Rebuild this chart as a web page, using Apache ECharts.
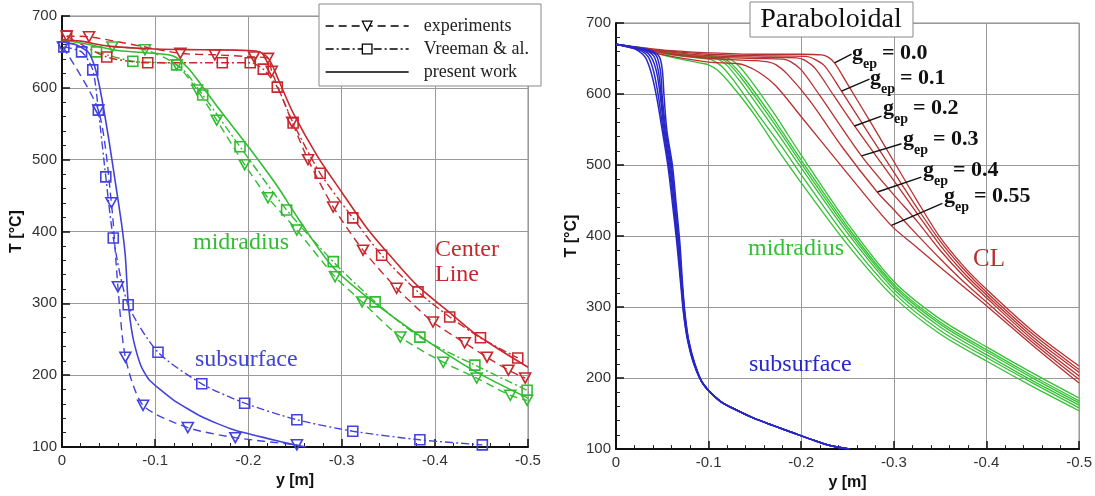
<!DOCTYPE html>
<html><head><meta charset="utf-8">
<script src="https://cdn.jsdelivr.net/npm/echarts@6/dist/echarts.min.js"></script>
<style>html,body{margin:0;padding:0;background:#fff}#c{width:1095px;height:496px}</style>
</head><body><div id="c"></div>
<script>
// ---------------- axis ranges ----------------
const xRange = [-0.5, 0];
const yRange = [100, 700];
const legendNames = ['experiments', 'Vreeman & al.', 'present work'];

// ---------------- LEFT PANEL (comparison) ----------------
const redExp = [[-0.005,672],[-0.029,671],[-0.127,648],[-0.164,646],[-0.206,643],[-0.221,641],[-0.225,623],[-0.247,552],[-0.264,500],[-0.291,434],[-0.323,374],[-0.359,321],[-0.398,274],[-0.432,245],[-0.456,225],[-0.479,207],[-0.497,196]];
const redVre = [[-0.005,672],[-0.048,643],[-0.092,635],[-0.172,635],[-0.202,635],[-0.216,626],[-0.231,601],[-0.248,551],[-0.277,481],[-0.312,419],[-0.343,367],[-0.382,316],[-0.416,281],[-0.449,252],[-0.489,224]];
const redSim = [[0,667],[-0.02,665],[-0.05,658],[-0.1,654],[-0.15,653],[-0.2,652],[-0.212,650],[-0.222,640],[-0.232,612],[-0.248,565],[-0.274,505],[-0.3,455],[-0.327,405],[-0.355,362],[-0.381,325],[-0.416,287],[-0.441,260],[-0.47,235],[-0.5,211]];

const greenExp = [[-0.054,657],[-0.089,653],[-0.123,632],[-0.145,597],[-0.166,555],[-0.196,493],[-0.221,447],[-0.252,402],[-0.293,337],[-0.322,302],[-0.363,253],[-0.409,218],[-0.445,196],[-0.481,172],[-0.499,165]];
const greenVre = [[-0.037,650],[-0.076,637],[-0.123,632],[-0.151,590],[-0.191,518],[-0.241,430],[-0.291,358],[-0.336,302],[-0.384,253],[-0.443,214],[-0.499,179]];
const greenSim = [[0,667],[-0.03,660],[-0.06,652],[-0.1,648],[-0.12,644],[-0.135,628],[-0.15,603],[-0.17,568],[-0.2,518],[-0.23,465],[-0.255,415],[-0.291,350],[-0.334,302],[-0.387,252],[-0.441,207],[-0.5,168]];

const blueExp = [[-0.001,657],[-0.039,569],[-0.053,440],[-0.06,323],[-0.068,225],[-0.087,158],[-0.135,127],[-0.186,113],[-0.252,103]];
const blueVre = [[-0.002,657],[-0.021,650],[-0.033,625],[-0.039,569],[-0.047,476],[-0.055,391],[-0.071,298],[-0.103,232],[-0.15,188],[-0.196,161],[-0.252,138],[-0.312,122],[-0.384,110],[-0.451,103]];
const blueSim = [[0,664],[-0.015,660],[-0.028,650],[-0.035,630],[-0.041,597],[-0.05,530],[-0.058,462],[-0.064,410],[-0.068,365],[-0.0705,310],[-0.073,278],[-0.077,247],[-0.085,212],[-0.094,193],[-0.119,166],[-0.15,142],[-0.184,124],[-0.22,112],[-0.25,103],[-0.262,100]];

// ---------------- RIGHT PANEL (paraboloidal) ----------------
const clG00 = [[0,670],[-0.03,665],[-0.06,661],[-0.1,658],[-0.15,656],[-0.2,656],[-0.222,655],[-0.229,652],[-0.236,644],[-0.25,614],[-0.275,560],[-0.3,505],[-0.325,450],[-0.35,398],[-0.375,358],[-0.4,325],[-0.45,266],[-0.5,217]];
const clG01 = [[0,670],[-0.03,664],[-0.06,660],[-0.1,656],[-0.15,654],[-0.205,653],[-0.213,650],[-0.225,640],[-0.2435,604],[-0.275,540],[-0.3,490],[-0.325,440],[-0.35,393],[-0.375,354],[-0.4,321],[-0.45,262],[-0.5,212]];
const clG02 = [[0,670],[-0.03,664],[-0.06,659],[-0.1,654],[-0.15,652],[-0.195,651],[-0.203,648],[-0.215,636],[-0.235,598],[-0.2575,555],[-0.3,478],[-0.325,432],[-0.35,387],[-0.375,349],[-0.4,317],[-0.45,258],[-0.5,208]];
const clG03 = [[0,670],[-0.03,663],[-0.06,657],[-0.1,652],[-0.15,650],[-0.18,649],[-0.188,646],[-0.2,634],[-0.22,598],[-0.265,513],[-0.3,458],[-0.325,421],[-0.35,380],[-0.375,344],[-0.4,313],[-0.45,254],[-0.5,203]];
const clG04 = [[0,670],[-0.03,663],[-0.06,656],[-0.1,650],[-0.15,647],[-0.165,645],[-0.173,641],[-0.185,628],[-0.209,591],[-0.245,524],[-0.282,462],[-0.3,437],[-0.325,402],[-0.35,368],[-0.375,336],[-0.4,307],[-0.45,250],[-0.5,198]];
const clG055 = [[0,670],[-0.03,661],[-0.06,653],[-0.1,645],[-0.13,643],[-0.14,640],[-0.155,630],[-0.173,611],[-0.2,568],[-0.25,488],[-0.297,415],[-0.325,384],[-0.35,356],[-0.375,329],[-0.4,302],[-0.45,246],[-0.5,193]];
const clCurves = [clG00, clG01, clG02, clG03, clG04, clG055];
const gepLabels = ['0.0', '0.1', '0.2', '0.3', '0.4', '0.55'];
// leader lines: point on curve -> label end (data coordinates)
const leaderFrom = [[-0.236,644],[-0.2435,604],[-0.2575,555],[-0.2651,513],[-0.2823,462],[-0.2974,415]];
const leaderTo   = [[-0.2543,656],[-0.2737,621],[-0.2866,569],[-0.3082,530],[-0.3297,483],[-0.3524,446]];

const midM1 = [[0,670],[-0.03,662],[-0.06,652],[-0.09,644],[-0.1,641],[-0.11,633],[-0.125,612],[-0.15,570],[-0.175,521],[-0.2,475],[-0.25,388],[-0.3,314],[-0.35,262],[-0.4,224],[-0.45,188],[-0.5,154]];
const midM2 = [[0,670],[-0.03,663],[-0.06,655],[-0.1,649],[-0.105,647],[-0.115,638],[-0.13,614],[-0.155,568],[-0.18,524],[-0.2,486],[-0.25,396],[-0.3,320],[-0.35,267],[-0.4,229],[-0.45,193],[-0.5,158]];
const midM3 = [[0,670],[-0.03,664],[-0.06,656],[-0.1,651],[-0.11,649],[-0.12,640],[-0.135,616],[-0.16,571],[-0.18,534],[-0.2,496],[-0.25,404],[-0.3,325],[-0.35,272],[-0.4,233],[-0.45,196],[-0.5,162]];
const midM4 = [[0,670],[-0.03,664],[-0.06,657],[-0.1,652],[-0.113,650],[-0.123,641],[-0.138,618],[-0.163,573],[-0.18,541],[-0.2,502],[-0.25,409],[-0.3,329],[-0.35,276],[-0.4,237],[-0.45,200],[-0.5,165]];
const midM5 = [[0,670],[-0.03,664],[-0.06,657],[-0.1,652],[-0.116,650],[-0.126,641],[-0.141,618],[-0.166,573],[-0.18,546],[-0.2,507],[-0.25,413],[-0.3,332],[-0.35,279],[-0.4,240],[-0.45,203],[-0.5,168]];
const midM6 = [[0,670],[-0.03,665],[-0.06,658],[-0.1,653],[-0.12,651],[-0.13,643],[-0.145,620],[-0.17,574],[-0.2,514],[-0.25,418],[-0.3,336],[-0.35,283],[-0.4,244],[-0.45,207],[-0.5,172]];
const midCurves = [midM1, midM2, midM3, midM4, midM5, midM6];

const subHead1 = [[0,670],[-0.015,666],[-0.025,660],[-0.032,651],[-0.038,630],[-0.044,595],[-0.05,548],[-0.056,499],[-0.061,445],[-0.0657,390],[-0.07,330],[-0.073,290],[-0.077,255],[-0.084,220],[-0.094,192]];
const subHead2 = [[0,670],[-0.015,666],[-0.027,661],[-0.035,652],[-0.041,630],[-0.046,595],[-0.051,548],[-0.057,499],[-0.062,445],[-0.0665,390],[-0.0705,330],[-0.0733,290],[-0.0773,255],[-0.0843,220],[-0.094,192]];
const subHead3 = [[0,670],[-0.015,666],[-0.029,662],[-0.038,652],[-0.044,630],[-0.048,595],[-0.052,548],[-0.058,499],[-0.063,445],[-0.067,390],[-0.071,330],[-0.0737,290],[-0.0776,255],[-0.0845,220],[-0.094,192]];
const subHead4 = [[0,670],[-0.015,667],[-0.03,663],[-0.041,653],[-0.046,630],[-0.049,595],[-0.053,548],[-0.059,499],[-0.0635,445],[-0.0675,390],[-0.0713,330],[-0.074,290],[-0.0778,255],[-0.0847,220],[-0.094,192]];
const subHead5 = [[0,670],[-0.015,667],[-0.03,663],[-0.043,655],[-0.048,632],[-0.05,595],[-0.054,548],[-0.06,499],[-0.064,445],[-0.068,390],[-0.0716,330],[-0.0743,290],[-0.078,255],[-0.085,220],[-0.094,192]];
const subHead6 = [[0,670],[-0.015,667],[-0.03,664],[-0.04,660],[-0.047,652],[-0.05,634],[-0.052,595],[-0.055,548],[-0.061,499],[-0.065,445],[-0.069,390],[-0.072,330],[-0.0746,290],[-0.0783,255],[-0.0852,220],[-0.094,192]];
const subTail = [[-0.112,168],[-0.13,155],[-0.148,144],[-0.17,133],[-0.191,123],[-0.21,114],[-0.231,105],[-0.252,100]];
const subHeads = [subHead1, subHead2, subHead3, subHead4, subHead5, subHead6];

// ---------------- styling ----------------
const RED = '#c8282d', GREEN = '#33bb33', BLUE = '#4343dc';
const RED_R = '#b83030', GREEN_R = '#35c035', BLUE_R = '#2828c8';
const SANS = '"Liberation Sans", Arial, sans-serif';
const SERIF = '"Liberation Serif", "Times New Roman", serif';

function mkX(gi, gap) {
  return {
    type: 'value', gridIndex: gi, min: xRange[0], max: xRange[1], interval: 0.1, inverse: true,
    name: 'y [m]', nameLocation: 'middle', nameGap: gap,
    nameTextStyle: { fontFamily: SANS, fontWeight: 'bold', fontSize: 16, color: '#111' },
    axisLine: { show: true, onZero: false, lineStyle: { color: '#111', width: 2 } },
    axisTick: { show: true, inside: true, length: 8, lineStyle: { color: '#111', width: 1.5 } },
    minorTick: { show: true, splitNumber: 5, length: 4, lineStyle: { color: '#222', width: 1 } },
    splitLine: { show: true, lineStyle: { color: '#999', width: 1 } },
    axisLabel: { fontFamily: SANS, fontSize: 15, color: '#333', margin: 6,
      formatter: v => (Math.abs(v) < 1e-9 ? '0' : v.toFixed(1)) }
  };
}
function mkY(gi, gap) {
  return {
    type: 'value', gridIndex: gi, min: yRange[0], max: yRange[1], interval: 100,
    name: 'T [°C]', nameLocation: 'middle', nameGap: gap,
    nameTextStyle: { fontFamily: SANS, fontWeight: 'bold', fontSize: 16, color: '#111' },
    axisLine: { show: true, onZero: false, lineStyle: { color: '#111', width: 2 } },
    axisTick: { show: true, inside: true, length: 8, lineStyle: { color: '#111', width: 1.5 } },
    minorTick: { show: true, splitNumber: 5, length: 4, lineStyle: { color: '#222', width: 1 } },
    splitLine: { show: true, lineStyle: { color: '#999', width: 1 } },
    axisLabel: { fontFamily: SANS, fontSize: 15, color: '#333', margin: 5 }
  };
}

const series = [];
function expSeries(name, data, color) {
  series.push({ name: 'experiments', type: 'line', xAxisIndex: 0, yAxisIndex: 0, data, smooth: 0.25,
    symbol: 'triangle', symbolRotate: 180, symbolSize: [11, 10], showAllSymbol: true,
    lineStyle: { color, width: 1.4, type: [8, 5] },
    itemStyle: { color: 'rgba(255,255,255,0)', borderColor: color, borderWidth: 1.6 }, z: 3 });
}
function vreSeries(data, color) {
  series.push({ name: 'Vreeman & al.', type: 'line', xAxisIndex: 0, yAxisIndex: 0, data, smooth: 0.25,
    symbol: 'rect', symbolSize: 10, showAllSymbol: true,
    lineStyle: { color, width: 1.4, type: [8, 3, 2, 3] },
    itemStyle: { color: 'rgba(255,255,255,0)', borderColor: color, borderWidth: 1.6 }, z: 3 });
}
function simSeries(data, color, sm) {
  series.push({ name: 'present work', type: 'line', xAxisIndex: 0, yAxisIndex: 0, data, smooth: sm,
    symbol: 'none', lineStyle: { color, width: 1.6, type: 'solid' }, z: 4 });
}
expSeries('b', blueExp, BLUE); expSeries('g', greenExp, GREEN); expSeries('r', redExp, RED);
vreSeries(blueVre, BLUE); vreSeries(greenVre, GREEN); vreSeries(redVre, RED);
simSeries(blueSim, BLUE, 0.2); simSeries(greenSim, GREEN, 0.3); simSeries(redSim, RED, 0.3);

midCurves.forEach((d, i) => series.push({ name: 'midradius ' + i, type: 'line', xAxisIndex: 1, yAxisIndex: 1,
  data: d, smooth: 0.3, symbol: 'none', lineStyle: { color: GREEN_R, width: 1.3 }, z: 3 }));
clCurves.forEach((d, i) => series.push({ name: 'CL gep=' + gepLabels[i], type: 'line', xAxisIndex: 1, yAxisIndex: 1,
  data: d, smooth: 0.3, symbol: 'none', lineStyle: { color: RED_R, width: 1.3 }, z: 3,
  markLine: { silent: true, symbol: ['none', 'none'], animation: false,
    lineStyle: { color: '#111', width: 1.4, type: 'solid' }, label: { show: false },
    emphasis: { disabled: true },
    data: [[{ coord: leaderFrom[i] }, { coord: leaderTo[i] }]] } }));
subHeads.forEach((h, i) => series.push({ name: 'subsurface ' + i, type: 'line', xAxisIndex: 1, yAxisIndex: 1,
  data: h.concat(subTail), smooth: 0.3, symbol: 'none', lineStyle: { color: BLUE_R, width: 1.5 }, z: 3 }));

// ---------------- annotations ----------------
const graphic = [];
function txt(x, y, text, fill, size, weight, family) {
  graphic.push({ type: 'text', x, y, z: 50, silent: true,
    style: { text, fill, fontSize: size, fontWeight: weight || 'normal', fontFamily: family || SERIF,
      align: 'left', verticalAlign: 'middle' } });
}
txt(193, 243, 'midradius', GREEN, 24);
txt(435, 250, 'Center', RED, 24);
txt(435, 275, 'Line', RED, 24);
txt(195, 360, 'subsurface', BLUE, 24);
txt(748, 249, 'midradius', GREEN_R, 24);
txt(973, 259, 'CL', RED_R, 25);
txt(749, 365, 'subsurface', BLUE_R, 24);
graphic.push({ type: 'rect', z: 60, silent: true, shape: { x: 750, y: 2, width: 163, height: 35 },
  style: { fill: '#fff', stroke: '#888', lineWidth: 1 } });
graphic.push({ type: 'text', x: 831, y: 20, z: 61, silent: true,
  style: { text: 'Paraboloidal', fill: '#111', fontSize: 28, fontFamily: SERIF, align: 'center', verticalAlign: 'middle' } });
const gepPos = [[852,53],[870,78],[883,108],[903,139],[923,170],[944,196]];
gepPos.forEach((p, i) => {
  txt(p[0], p[1], 'g', '#111', 22, 'bold');
  txt(p[0] + 11, p[1] + 11, 'ep', '#111', 14, 'bold');
  txt(p[0] + 30, p[1], '= ' + gepLabels[i], '#111', 22, 'bold');
});

const option = {
  animation: false,
  backgroundColor: '#fff',
  grid: [
    { left: 62, top: 16, width: 466, height: 431, show: true, borderColor: '#888', borderWidth: 1, backgroundColor: 'transparent' },
    { left: 616, top: 23, width: 464, height: 429, show: true, borderColor: '#888', borderWidth: 1, backgroundColor: 'transparent' }
  ],
  xAxis: [mkX(0, 19), mkX(1, 14)],
  yAxis: [mkY(0, 37), mkY(1, 36)],
  legend: {
    data: [{ name: legendNames[0] }, { name: legendNames[1] },
      { name: legendNames[2], itemStyle: { color: 'rgba(0,0,0,0)', borderColor: 'rgba(0,0,0,0)', opacity: 0 } }],
    left: 319, top: 4, orient: 'vertical', itemWidth: 83, itemHeight: 12, itemGap: 5,
    padding: [13, 12, 5, 6], backgroundColor: '#fff', borderColor: '#888', borderWidth: 1,
    selectedMode: false, z: 20,
    textStyle: { fontFamily: SERIF, fontSize: 18, color: '#222', padding: [0, 0, 0, 10] },
    lineStyle: { color: '#000', width: 1.3 },
    itemStyle: { color: '#fff', borderColor: '#000', borderWidth: 1.3 }
  },
  graphic,
  series
};
const chart = echarts.init(document.getElementById('c'), null, { renderer: 'canvas' });
chart.setOption(option);
</script></body></html>
